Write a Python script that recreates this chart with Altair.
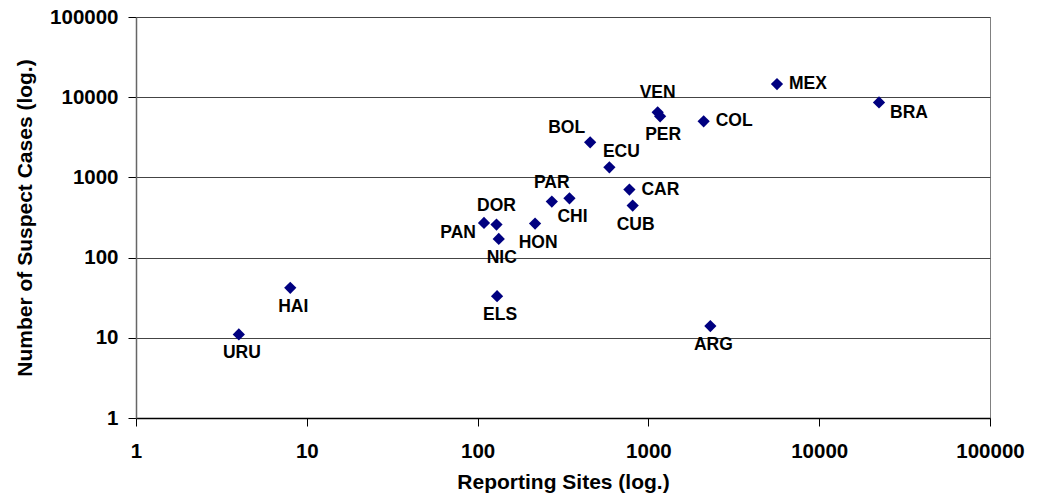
import altair as alt
import pandas as pd

countries = ["URU", "HAI", "ELS", "PAN", "DOR", "NIC", "HON", "PAR", "CHI", "BOL",
             "ECU", "CAR", "CUB", "VEN", "PER", "COL", "ARG", "MEX", "BRA"]
reporting_sites = [4, 8, 130, 109, 129, 133, 217, 272, 345, 456,
                   591, 774, 809, 1133, 1171, 2106, 2305, 5660, 22400]
suspect_cases = [11, 42, 33, 271, 258, 171, 266, 500, 549, 2740,
                 1336, 705, 445, 6470, 5770, 5000, 14, 14600, 8610]
label_side = ["S", "S", "S", "SW", "N", "S", "S", "N", "S", "NW",
              "NE", "E", "S", "N", "S", "E", "S", "E", "SE"]
tick_values = [1, 10, 100, 1000, 10000, 100000]

df = pd.DataFrame({
    "country": countries,
    "sites": reporting_sites,
    "cases": suspect_cases,
    "side": label_side,
})

FONT = "Liberation Sans"

x_enc = alt.X("sites:Q",
              scale=alt.Scale(type="log", domain=[1, 100000], nice=False),
              axis=alt.Axis(values=tick_values, format="d", grid=False,
                            title="Reporting Sites (log.)",
                            titleX=427, titleY=70, titleBaseline="alphabetic",
                            tickSize=8, labelPadding=15,
                            domainColor="#000000", tickColor="#000000",
                            labelFlush=False, labelOverlap=False))
y_enc = alt.Y("cases:Q",
              scale=alt.Scale(type="log", domain=[1, 100000], nice=False),
              axis=alt.Axis(values=tick_values, format="d", grid=True,
                            gridColor="#444444", gridOpacity=1,
                            title="Number of Suspect Cases (log.)",
                            titleX=-105, titleY=200.5, titleAngle=270,
                            titleAlign="center", titleBaseline="alphabetic",
                            tickSize=8, labelPadding=10,
                            domainColor="#666666", tickColor="#000000",
                            labelFlush=False, labelOverlap=False))

base = alt.Chart(df)

points = base.mark_point(shape="diamond", filled=True, size=150,
                         color="#000080", opacity=1, strokeWidth=0).encode(x=x_enc, y=y_enc)

placements = {
    "N": dict(align="center", baseline="alphabetic", dx=0, dy=-14),
    "NE": dict(align="center", baseline="alphabetic", dx=12, dy=-10),
    "S": dict(align="center", baseline="top", dx=3, dy=10),
    "E": dict(align="left", baseline="middle", dx=12, dy=0),
    "W": dict(align="right", baseline="middle", dx=-7, dy=0),
    "NW": dict(align="right", baseline="middle", dx=-5, dy=-14),
    "SW": dict(align="right", baseline="middle", dx=-8, dy=10),
    "SE": dict(align="left", baseline="middle", dx=11, dy=11),
}

def labels(side, kw):
    return base.transform_filter(alt.datum.side == side).mark_text(
        font=FONT, fontSize=17.5, fontWeight="bold", color="#000000", **kw
    ).encode(x="sites:Q", y="cases:Q", text="country:N")

layers = [points] + [labels(s, kw) for s, kw in placements.items() if s in label_side]

chart = alt.layer(*layers).properties(
    width=854, height=401,
    background="#ffffff",
    autosize=alt.AutoSizeParams(type="none"),
    padding={"left": 128, "top": 9, "right": 44, "bottom": 76},
).configure_view(
    stroke="#808080", strokeWidth=1
).configure_axis(
    labelFont=FONT, titleFont=FONT, labelFontWeight="bold", titleFontWeight="bold",
    labelFontSize=20.5, titleFontSize=21, labelColor="#000000", titleColor="#000000",
    domainWidth=1.5
)

chart.save("out.html", embed_options={"renderer": "svg", "actions": False})
